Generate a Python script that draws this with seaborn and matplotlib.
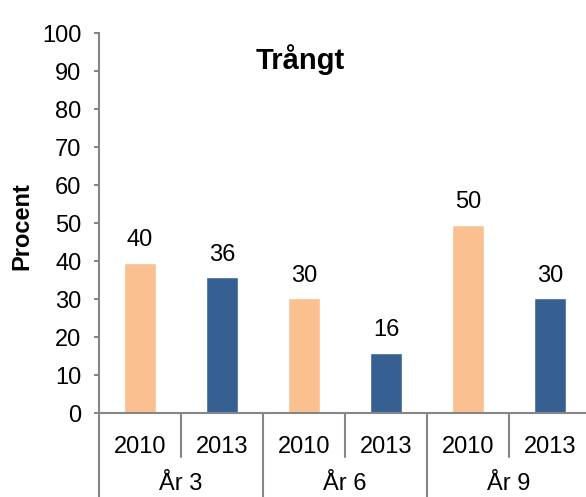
import matplotlib
matplotlib.use("Agg")
import matplotlib.pyplot as plt
import matplotlib.transforms as mtransforms
import seaborn as sns
import pandas as pd

groups = ["År 3", "År 3", "År 6", "År 6", "År 9", "År 9"]
years = ["2010", "2013", "2010", "2013", "2010", "2013"]
values = [39.6, 35.8, 30.2, 15.9, 49.6, 30.2]
group_names = ["År 3", "År 6", "År 9"]
title = "Trångt"
ylabel = "Procent"
colors = {"2010": "#FAC090", "2013": "#376092"}

df = pd.DataFrame({"grupp": groups, "år": years, "procent": values})
df["kat"] = [f"{g}|{y}" for g, y in zip(groups, years)]

sns.set_theme(style="white")
plt.rcParams["font.family"] = ["Liberation Sans", "DejaVu Sans"]
plt.rcParams["text.color"] = "#000000"

W, H = 586, 497
fig = plt.figure(figsize=(W / 100, H / 100), dpi=100)
left, right, top, bottom = 99, 591, 33, 413
ax = fig.add_axes([left / W, 1 - bottom / H, (right - left) / W, (bottom - top) / H])

sns.barplot(data=df, x="kat", y="procent", hue="år", palette=colors,
            dodge=False, width=0.39, legend=False, ax=ax, saturation=1)

for cont in ax.containers:
    ax.bar_label(cont, labels=[f"{v:.0f}" if v == v and v > 0 else "" for v in cont.datavalues],
                 padding=8, fontsize=17, color="#000000")

ax.set_xlim(-0.5, 5.5)
ax.set_ylim(0, 100)
ax.set_yticks(range(0, 101, 10))
ax.set_xticks([])
ax.set_xlabel("")
ax.set_ylabel("")
ax.tick_params(axis="y", direction="out", length=3.6, width=1.4, color="#868686",
               pad=9, labelsize=17, labelcolor="#000000", left=True)
for s in ["top", "right"]:
    ax.spines[s].set_visible(False)
for s in ["left", "bottom"]:
    ax.spines[s].set_color("#868686")
    ax.spines[s].set_linewidth(1.5)

axh = bottom - top
trans = mtransforms.blended_transform_factory(ax.transData, ax.transAxes)
# year labels
for i, y in enumerate(years):
    ax.text(i, -34 / axh, y, transform=trans, ha="center", va="center",
            fontsize=17, color="#000000", clip_on=False)
# short separators between years within group
for i in [0.5, 2.5, 4.5]:
    ax.plot([i, i], [0, -44 / axh], transform=trans, color="#868686", lw=1.5,
            clip_on=False)
# long separators between groups
for i in [-0.5, 1.5, 3.5, 5.5]:
    ax.plot([i, i], [0, -(H - bottom + 5) / axh], transform=trans, color="#868686",
            lw=1.5, clip_on=False)
# group labels
for j, g in enumerate(group_names):
    ax.text(2 * j + 0.5, -(H - bottom - 2) / axh, g, transform=trans, ha="center",
            va="bottom", fontsize=17, color="#000000", clip_on=False)

fig.text(300 / W, 1 - 60 / H, title, ha="center", va="center", fontsize=21,
         fontweight="bold", color="#000000")
fig.text(22 / W, 1 - 226 / H, ylabel, ha="center", va="center", rotation=90,
         fontsize=17, fontweight="bold", color="#000000")

fig.savefig("out.png", dpi=100)
